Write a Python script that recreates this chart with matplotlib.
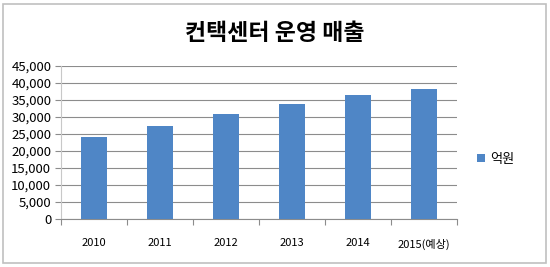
import matplotlib
matplotlib.use("Agg")
import matplotlib.pyplot as plt
from matplotlib.patches import Rectangle
import matplotlib.ticker as ticker

plt.rcParams["font.family"] = ["Noto Sans CJK KR", "DejaVu Sans"]

years = ["2010", "2011", "2012", "2013", "2014", "2015(예상)"]
sales = [24000, 27500, 31000, 33700, 36400, 38200]
series_name = "억원"
title = "컨택센터 운영 매출"

BAR_COLOR = "#4f86c6"
GRID_COLOR = "#8c8c8c"

fig = plt.figure(figsize=(5.5, 2.67), dpi=100)
ax = fig.add_axes([61 / 550, 1 - 219 / 267, 396 / 550, 153 / 267])

x = range(len(years))
ax.bar(x, sales, width=0.4, color=BAR_COLOR, zorder=3, label=series_name)

ax.set_ylim(0, 45000)
ax.set_xlim(-0.5, len(years) - 0.5)
ax.yaxis.set_major_locator(ticker.MultipleLocator(5000))
ax.yaxis.set_major_formatter(ticker.FuncFormatter(lambda v, p: f"{int(v):,}"))
ax.grid(axis="y", color=GRID_COLOR, linewidth=0.8, zorder=0)

# category boundaries get the tick marks, labels sit between them
ax.set_xticks([i - 0.5 for i in range(len(years) + 1)])
ax.set_xticklabels([])
ax.set_xticks(list(x), minor=True)
ax.set_xticklabels(years, minor=True)
ax.tick_params(axis="x", which="major", length=4, color=GRID_COLOR, direction="out")
ax.tick_params(axis="x", which="minor", length=0, pad=14, labelsize=8)
ax.tick_params(axis="y", length=4, color=GRID_COLOR, labelsize=9.5, pad=3)

for side in ["top", "right"]:
    ax.spines[side].set_visible(False)
ax.spines["left"].set_color("#c8c8c8")
ax.spines["bottom"].set_color(GRID_COLOR)

fig.text(0.5, 1 - 33 / 267, title, ha="center", va="center",
         fontsize=16.5, fontweight="bold")

ax.legend(loc="center left", bbox_to_anchor=(1.02, 0.39), frameon=False,
          fontsize=9.5, handlelength=0.6, handleheight=0.6, handletextpad=0.4)

fig.patches.append(Rectangle((3 / 550, 4 / 267), 543 / 550, 259 / 267,
                             transform=fig.transFigure, fill=False,
                             edgecolor="#c0c0c0", linewidth=1.2))

fig.savefig("out.png", dpi=100)
